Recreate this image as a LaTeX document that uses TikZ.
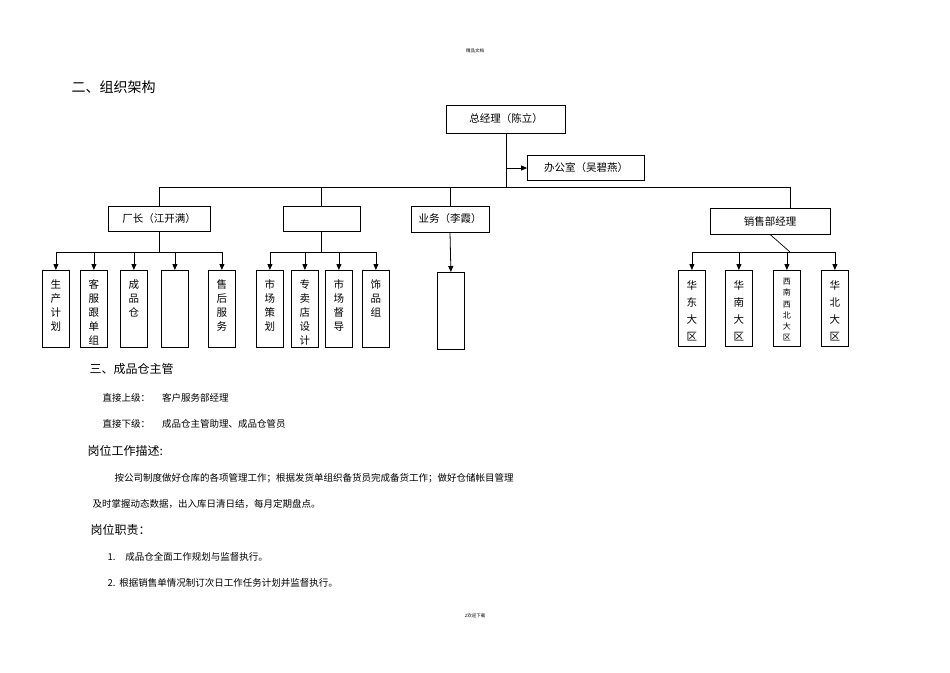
\documentclass[tikz,border=0pt]{standalone}
\usepackage{fontspec}
\setmainfont{Noto Sans CJK SC}
\usetikzlibrary{arrows.meta}
\begin{document}
\begin{tikzpicture}[x=1pt,y=-1pt,
  box/.style={draw,line width=0.8pt,inner sep=0pt},
  vbox/.style={draw,line width=0.8pt,inner sep=0pt,minimum width=27pt,minimum height=77pt,anchor=north west},
  vt/.style={anchor=north,align=center,font=\fontsize{10.5}{14}\selectfont},
  ln/.style={line width=0.7pt},
  arr/.style={line width=0.8pt,-{Triangle[length=6pt,width=5pt]}},
  lbl/.style={font=\fontsize{10.5}{12}\selectfont}]
\useasboundingbox (0,0) rectangle (950,672);
\node[font=\fontsize{4.5}{5}\selectfont] (hdr) at (475,51) {精品文档};
\node[font=\fontsize{4.5}{5}\selectfont] (ftr) at (475,616) {2欢迎下载};
\node[anchor=west,font=\fontsize{14}{16}\selectfont] (t1) at (68,87) {二、组织架构};
% top
\node[box,minimum width=119pt,minimum height=28pt,lbl] (gm) at (506,119) {总经理（陈立）};
\node[box,minimum width=117pt,minimum height=25pt,lbl] (of) at (586,168) {办公室（吴碧燕）};
\coordinate (bus) at (506,187);
\coordinate (ofj) at (506,168);
\draw[ln] (gm.south) -- (bus);
\draw[arr] (ofj) -- (of.west);
\node[box,minimum width=102pt,minimum height=25pt,lbl] (cz) at (159,218.5) {厂长（江开满）};
\node[box,minimum width=77pt,minimum height=25pt] (em) at (321.5,218.5) {};
\node[box,minimum width=78pt,minimum height=26pt,lbl] (yw) at (450,219) {业务（李霞）};
\node[box,minimum width=120pt,minimum height=26pt,lbl] (xs) at (770,221) {销售部经理};
\draw[ln] (cz.north) -- (159,187) -- (790,187) -- (790,208);
\draw[ln] (em.north) -- (321.5,187);
\draw[ln] (yw.north) -- (450,187);
% children of cz
\node[vbox] (a1) at (42,270) {}; \node[vt] at (a1.north) [yshift=-6pt] {生\\产\\计\\划};
\node[vbox] (a2) at (80,270) {}; \node[vt] at (a2.north) [yshift=-6pt] {客\\服\\跟\\单\\组};
\node[vbox] (a3) at (120,270) {}; \node[vt] at (a3.north) [yshift=-6pt] {成\\品\\仓};
\node[vbox] (a4) at (161,270) {};
\node[vbox] (a5) at (208,270) {}; \node[vt] at (a5.north) [yshift=-6pt] {售\\后\\服\\务};
\coordinate (ja) at (159,252);
\draw[ln] (cz.south) -- (ja);
\draw[ln] (a1.north |- ja) -- (a5.north |- ja);
\foreach \n in {a1,a2,a3,a4,a5} \draw[arr] (\n.north |- ja) -- (\n.north);
% children of em
\node[vbox] (b1) at (256,270) {}; \node[vt] at (b1.north) [yshift=-6pt] {市\\场\\策\\划};
\node[vbox] (b2) at (291,270) {}; \node[vt] at (b2.north) [yshift=-6pt] {专\\卖\\店\\设\\计};
\node[vbox] (b3) at (325,270) {}; \node[vt] at (b3.north) [yshift=-6pt] {市\\场\\督\\导};
\node[vbox] (b4) at (362,270) {}; \node[vt] at (b4.north) [yshift=-6pt] {饰\\品\\组};
\coordinate (jb) at (321.5,252);
\draw[ln] (em.south) -- (jb);
\draw[ln] (b1.north |- jb) -- (b4.north |- jb);
\foreach \n in {b1,b2,b3,b4} \draw[arr] (\n.north |- jb) -- (\n.north);
% yw child
\node[vbox] (c1) at (437,272) {};
\draw[arr] (yw.south) -- (c1.north);
% xs children
\node[vbox,minimum height=76pt] (d1) at (678,270) {}; \node[vt,font=\fontsize{10.5}{17}\selectfont] at (d1.north) [yshift=-7pt] {华\\东\\大\\区};
\node[vbox,minimum height=76pt] (d2) at (725,270) {}; \node[vt,font=\fontsize{10.5}{17}\selectfont] at (d2.north) [yshift=-7pt] {华\\南\\大\\区};
\node[vbox,minimum height=76pt] (d3) at (773,270) {}; \node[vt,font=\fontsize{8}{11.2}\selectfont] at (d3.north) [yshift=-5pt] {西\\南\\西\\北\\大\\区};
\node[vbox,minimum height=76pt] (d4) at (821,270) {}; \node[vt,font=\fontsize{10.5}{17}\selectfont] at (d4.north) [yshift=-7pt] {华\\北\\大\\区};
\coordinate (jd) at (790,252);
\draw[ln] (xs.south) -- (jd);
\draw[ln] (d1.north |- jd) -- (d4.north |- jd);
\foreach \n in {d1,d2,d3,d4} \draw[arr] (\n.north |- jd) -- (\n.north);
% text
\node[anchor=west,font=\fontsize{12}{14}\selectfont] (t2) at (86,369) {三、成品仓主管};
\node[anchor=west,font=\fontsize{9.5}{11}\selectfont] (t3) at (99,398) {直接上级：\hspace{12pt}客户服务部经理};
\node[anchor=west,font=\fontsize{9.5}{11}\selectfont] (t4) at (99,424) {直接下级：\hspace{12pt}成品仓主管助理、成品仓管员};
\node[anchor=west,font=\fontsize{12}{14}\selectfont] (t5) at (84,451) {岗位工作描述:};
\node[anchor=west,font=\fontsize{9.5}{11}\selectfont] (t6) at (111,478) {按公司制度做好仓库的各项管理工作；根据发货单组织备货员完成备货工作；做好仓储帐目管理};
\node[anchor=west,font=\fontsize{9.5}{11}\selectfont] (t7) at (89,504) {及时掌握动态数据，出入库日清日结，每月定期盘点。};
\node[anchor=west,font=\fontsize{12}{14}\selectfont] (t8) at (87,530) {岗位职责：};
\node[anchor=west,font=\fontsize{9.5}{11}\selectfont] (t9) at (104,557) {1.\hspace{10pt}成品仓全面工作规划与监督执行。};
\node[anchor=west,font=\fontsize{9.5}{11}\selectfont] (t10) at (104,583) {2.\hspace{4pt}根据销售单情况制订次日工作任务计划并监督执行。};
\end{tikzpicture}
\end{document}
